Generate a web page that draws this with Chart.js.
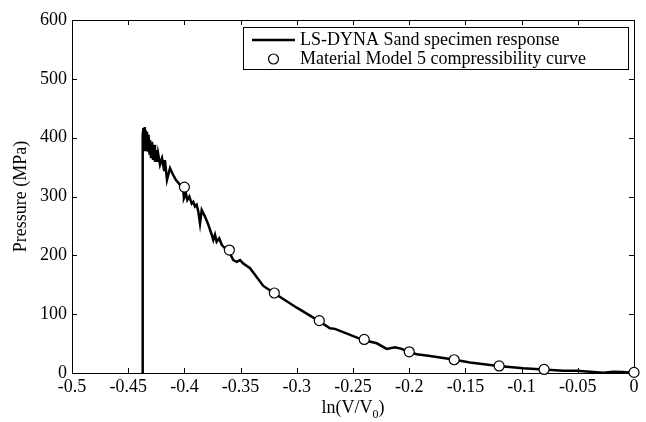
<!DOCTYPE html>
<html>
<head>
<meta charset="utf-8">
<script src="https://cdn.jsdelivr.net/npm/chart.js@4"></script>
<style>
html,body{margin:0;padding:0;background:#fff;}
#wrap{width:646px;height:422px;position:relative;}
</style>
</head>
<body>
<div id="wrap"><canvas id="c"></canvas></div>
<script>
// ---- data ----
const lineLabel = 'LS-DYNA Sand specimen response';
const curveLabel = 'Material Model 5 compressibility curve';
const lineX = [-0.4371,-0.4371,-0.4364,-0.4359,-0.4355,-0.4351,-0.4346,-0.4337,-0.4333,-0.4324,
  -0.4319,-0.4310,-0.4306,-0.4297,-0.4288,-0.4279,-0.4270,-0.4262,-0.4253,-0.4244,
  -0.4235,-0.4217,-0.4199,-0.4181,-0.4173,-0.4155,-0.4128,-0.4101,-0.4075,-0.4039,
  -0.4012,-0.4004,-0.3986,-0.3974,-0.3956,-0.3935,-0.3921,-0.3906,-0.3891,-0.3876,
  -0.3861,-0.3846,-0.3817,-0.3787,-0.3757,-0.3743,-0.3728,-0.3713,-0.3690,-0.3668,
  -0.3654,-0.3624,-0.3594,-0.3565,-0.3535,-0.3505,-0.3476,-0.3416,-0.3298,-0.3200,
  -0.3000,-0.2809,-0.2705,-0.2660,-0.2408,-0.2289,-0.2200,-0.2126,-0.2067,-0.2008,
  -0.1933,-0.1815,-0.1608,-0.1459,-0.1207,-0.0985,-0.0807,-0.0629,-0.0510,-0.0391,
  -0.0273,-0.0184,-0.0095,0];
const lineY = [0,405,416,379,418,382,413,379,410,376,
  405,371,396,365,393,362,388,359,379,359,
  374,354,365,345,362,328,348,337,328,320,
  316,297,305,294,300,288,291,283,286,274,
  254,277,266,252,235,226,235,223,229,218,
  215,209,203,192,189,192,186,178,148,135.5,
  111,89,76,75,56,50.5,41,43.7,41,36,
  32,29,23,18,12,8,6,4,4,2,
  0.5,2,1.5,0.5];
const curveX = [-0.40,-0.36,-0.32,-0.28,-0.24,-0.20,-0.16,-0.12,-0.08,0];
const curveY = [316,209,136,89,57,36,22.5,12,6,1];
const xTicks = [-0.5,-0.45,-0.4,-0.35,-0.3,-0.25,-0.2,-0.15,-0.1,-0.05,0];
const yTicks = [0,100,200,300,400,500,600];
const xTitleMain = 'ln(V/V';
const xTitleSub = '0';
const xTitleEnd = ')';
const yTitle = 'Pressure (MPa)';

const FONT = "'Liberation Serif', 'Times New Roman', serif";

const framePlugin = {
  id: 'frame',
  beforeDatasetsDraw(chart) {
    const ctx = chart.ctx;
    const {left, right, top, bottom} = chart.chartArea;
    const xs = chart.scales.x, ys = chart.scales.y;
    ctx.save();
    ctx.strokeStyle = '#000';
    ctx.lineWidth = 1;
    ctx.strokeRect(Math.round(left) + 0.5, Math.round(top) + 0.5, Math.round(right - left), Math.round(bottom - top));
    const tl = 5;
    ctx.beginPath();
    xTicks.forEach(v => {
      const px = Math.round(xs.getPixelForValue(v)) + 0.5;
      ctx.moveTo(px, bottom); ctx.lineTo(px, bottom - tl);
      ctx.moveTo(px, top); ctx.lineTo(px, top + tl);
    });
    yTicks.forEach(v => {
      const py = Math.round(ys.getPixelForValue(v)) + 0.5;
      ctx.moveTo(left, py); ctx.lineTo(left + tl, py);
      ctx.moveTo(right, py); ctx.lineTo(right - tl, py);
    });
    ctx.stroke();
    ctx.restore();
  },
  afterDraw(chart) {
    const ctx = chart.ctx;
    const {left, right, top, bottom} = chart.chartArea;
    ctx.save();
    // axis titles
    ctx.fillStyle = '#000';
    ctx.font = '18px ' + FONT;
    ctx.textBaseline = 'alphabetic';
    const wMain = ctx.measureText(xTitleMain).width;
    const wEnd = ctx.measureText(xTitleEnd).width;
    ctx.font = '12px ' + FONT;
    const wSub = ctx.measureText(xTitleSub).width;
    const total = wMain + wSub + wEnd;
    let sx = (left + right) / 2 - total / 2;
    const by = 413;
    ctx.font = '18px ' + FONT;
    ctx.textAlign = 'left';
    ctx.fillText(xTitleMain, sx, by);
    ctx.font = '12px ' + FONT;
    ctx.fillText(xTitleSub, sx + wMain, by + 5);
    ctx.font = '18px ' + FONT;
    ctx.fillText(xTitleEnd, sx + wMain + wSub, by);

    ctx.save();
    ctx.translate(21, (top + bottom) / 2);
    ctx.rotate(-Math.PI / 2);
    ctx.textAlign = 'center';
    ctx.textBaseline = 'middle';
    ctx.fillText(yTitle, 0, 0);
    ctx.restore();

    // legend
    const lx = 243, ly = 27, lw = 385, lh = 42;
    ctx.fillStyle = '#fff';
    ctx.fillRect(lx, ly, lw, lh);
    ctx.strokeStyle = '#000';
    ctx.lineWidth = 1;
    ctx.strokeRect(lx + 0.5, ly + 0.5, lw, lh);
    ctx.lineWidth = 2.5;
    ctx.beginPath();
    ctx.moveTo(252, 40); ctx.lineTo(295, 40);
    ctx.stroke();
    ctx.lineWidth = 1.2;
    ctx.beginPath();
    ctx.arc(273.5, 59, 5, 0, Math.PI * 2);
    ctx.fillStyle = '#fff';
    ctx.fill();
    ctx.stroke();
    ctx.fillStyle = '#000';
    ctx.font = '18px ' + FONT;
    ctx.textAlign = 'left';
    ctx.textBaseline = 'middle';
    ctx.fillText(lineLabel, 300, 40);
    ctx.fillText(curveLabel, 300, 59);
    ctx.restore();
  }
};

new Chart(document.getElementById('c'), {
  type: 'scatter',
  data: {
    datasets: [
      {
        label: curveLabel,
        data: curveX.map((x, i) => ({x, y: curveY[i]})),
        showLine: false,
        pointRadius: 5,
        pointBorderWidth: 1.2,
        pointBorderColor: '#000',
        pointBackgroundColor: '#fff',
        clip: false,
        order: 0
      },
      {
        label: lineLabel,
        data: lineX.map((x, i) => ({x, y: lineY[i]})),
        showLine: true,
        borderColor: '#000',
        borderWidth: 2.5,
        pointRadius: 0,
        tension: 0,
        clip: 2,
        order: 1
      }
    ]
  },
  options: {
    responsive: true,
    maintainAspectRatio: false,
    animation: false,
    layout: {padding: {top: 20, right: 12, left: 0, bottom: 0}},
    plugins: {legend: {display: false}, tooltip: {enabled: false}},
    scales: {
      x: {
        type: 'linear', min: -0.5, max: 0,
        afterBuildTicks: s => { s.ticks = xTicks.map(v => ({value: v})); },
        afterFit: s => { s.height = 49; },
        grid: {display: false, drawTicks: false},
        border: {display: false},
        ticks: {
          color: '#000', padding: 3,
          font: {family: FONT, size: 18},
          maxRotation: 0, autoSkip: false,
          callback: v => String(Number(v.toFixed(2)))
        }
      },
      y: {
        type: 'linear', min: 0, max: 600,
        afterBuildTicks: s => { s.ticks = yTicks.map(v => ({value: v})); },
        afterFit: s => { s.width = 72; },
        grid: {display: false, drawTicks: false},
        border: {display: false},
        ticks: {
          color: '#000', padding: 5,
          font: {family: FONT, size: 18},
          callback: v => String(v)
        }
      }
    }
  },
  plugins: [framePlugin]
});
</script>
</body>
</html>
